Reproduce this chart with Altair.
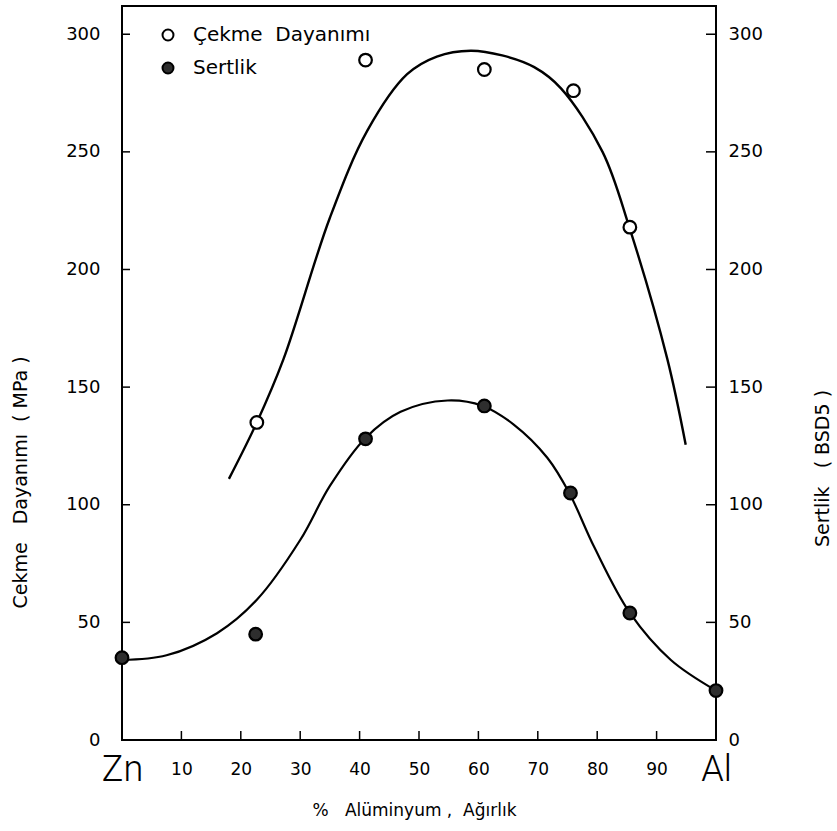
import altair as alt
import pandas as pd

# Measured points: aluminium content (wt %) against tensile strength (MPa) and hardness (BSD5)
cekme_al = [22.7, 41, 61, 76, 85.5]
cekme_mpa = [135, 289, 285, 276, 218]
sertlik_al = [0, 22.5, 41, 61, 75.5, 85.5, 100]
sertlik_bsd = [35, 45, 128, 142, 105, 54, 21]

# Hand-drawn trend curves, given as knots along each line
cekme_curve_al = [18, 22.7, 27.2, 35, 41.3, 48, 53, 58.7, 64, 69.4, 73.9, 80.9, 85.4, 91.8, 94.9]
cekme_curve_mpa = [111, 135, 162, 222, 259, 283, 290.5, 293, 291, 286, 277, 250, 218, 162, 125.5]
sertlik_curve_al = [0, 7.5, 16, 22.7, 30, 35, 41, 46.9, 54.8, 60.7, 66, 71.6, 75.3, 79.5, 85.5, 92.4, 100]
sertlik_curve_bsd = [34, 36, 45.4, 59.6, 85, 108, 128.4, 139.5, 144.3, 142, 134, 120, 105, 82, 54, 34, 21]

series_names = ["Çekme Dayanımı", "Sertlik"]
x_ticks = [0, 10, 20, 30, 40, 50, 60, 70, 80, 90, 100]
y_ticks = [0, 50, 100, 150, 200, 250, 300]

W, H = 594, 734
FONT = "DejaVu Sans"
SP = "\u00a0"  # non-collapsing space for the wide-set axis titles

points = pd.concat([
    pd.DataFrame({"al": cekme_al, "val": cekme_mpa, "seri": series_names[0]}),
    pd.DataFrame({"al": sertlik_al, "val": sertlik_bsd, "seri": series_names[1]}),
])
cekme_curve = pd.DataFrame({"al": cekme_curve_al, "val": cekme_curve_mpa})
sertlik_curve = pd.DataFrame({"al": sertlik_curve_al, "val": sertlik_curve_bsd})
yt = pd.DataFrame({"v": y_ticks})
xt = pd.DataFrame({"v": x_ticks[1:-1]})

x_scale = alt.Scale(domain=[0, 100], nice=False, zero=False)
y_scale = alt.Scale(domain=[0, 312], nice=False, zero=False)

end_test = "datum.value == 0 || datum.value == 100"
x_axis = alt.Axis(
    values=x_ticks,
    labelExpr="datum.value == 0 ? 'Zn' : datum.value == 100 ? 'Al' : datum.label",
    labelFontSize={"condition": {"test": end_test, "value": 36}, "value": 17},
    labelFont={"condition": {"test": end_test, "value": "Roboto"}, "value": FONT},
    labelFontWeight={"condition": {"test": end_test, "value": 300}, "value": "normal"},
    labelBaseline="middle",
    labelPadding=29,
    labelOverlap=False,
    labelFlush=False,
    labelBound=False,
    labelColor="black",
    ticks=False,
    domain=False,
    grid=False,
    title=f"%{SP*3}Alüminyum{SP},{SP*2}Ağırlık",
    titleFont=FONT,
    titleFontSize=17,
    titleFontWeight="normal",
    titleColor="black",
    titleX=292,
    titleY=70,
    titleBaseline="middle",
)


def xenc(field):
    return alt.X(field, type="quantitative", scale=x_scale, axis=x_axis)


left_axis = alt.Axis(
    orient="left", values=y_ticks, labelFont=FONT, labelFontSize=18, labelColor="black",
    labelPadding=22, ticks=False, domain=False, grid=False,
    title=f"Cekme{SP*3}Dayanımı{SP*2}({SP}MPa{SP})", titleFont=FONT, titleFontSize=19,
    titleFontWeight="normal", titleColor="black", titleAngle=270, titleLimit=400,
    titleX=-102, titleY=476, titleAlign="center", titleBaseline="middle",
)
right_axis = alt.Axis(
    orient="right", values=y_ticks, labelFont=FONT, labelFontSize=18, labelColor="black",
    labelPadding=12, ticks=False, domain=False, grid=False,
    title=f"Sertlik{SP*3}({SP}BSD5{SP})", titleFont=FONT, titleFontSize=19,
    titleFontWeight="normal", titleColor="black", titleAngle=270, titleLimit=400,
    titleX=106, titleY=462, titleAlign="center", titleBaseline="middle",
)

# Inward tick marks on the left, right and bottom frame edges
left_ticks = alt.Chart(yt).mark_rule(color="black", strokeWidth=1.5).encode(
    y=alt.Y("v:Q", scale=y_scale, axis=None), x=alt.value(0), x2=alt.value(8)
)
right_ticks = alt.Chart(yt).mark_rule(color="black", strokeWidth=1.5).encode(
    y=alt.Y("v:Q", scale=y_scale, axis=None), x=alt.value(W - 10), x2=alt.value(W)
)
bottom_ticks = alt.Chart(xt).mark_rule(color="black", strokeWidth=1.5).encode(
    x=xenc("v"), y=alt.value(H - 9), y2=alt.value(H)
)

cekme_line = alt.Chart(cekme_curve).mark_line(
    color="black", strokeWidth=2.4, interpolate="catmull-rom"
).encode(x=xenc("al"), y=alt.Y("val:Q", scale=y_scale, axis=left_axis))

sertlik_line = alt.Chart(sertlik_curve).mark_line(
    color="black", strokeWidth=2.2, interpolate="catmull-rom"
).encode(x=xenc("al"), y=alt.Y("val:Q", scale=y_scale, axis=right_axis))

dots = alt.Chart(points).mark_point(
    shape="circle", filled=True, size=160, stroke="black", strokeWidth=2.2, opacity=1
).encode(
    x=xenc("al"),
    y=alt.Y("val:Q", scale=y_scale, axis=None),
    fill=alt.Fill(
        "seri:N",
        scale=alt.Scale(domain=series_names, range=["white", "#2e2e2e"]),
        legend=alt.Legend(
            title=None, orient="none", legendX=36, legendY=19,
            symbolType="circle", symbolSize=120, symbolStrokeColor="black",
            symbolStrokeWidth=2, labelFont=FONT, labelFontSize=20, labelColor="black",
            labelOffset=15, rowPadding=13, padding=0, labelLimit=400,
            labelExpr=f"replace(datum.label, ' ', '{SP*2}')",
        ),
    ),
)

chart = alt.layer(
    left_ticks, right_ticks, bottom_ticks, cekme_line, sertlik_line, dots
).resolve_scale(y="independent").properties(
    width=W, height=H,
    autosize=alt.AutoSizeParams(type="none"),
    padding={"left": 122, "top": 6, "right": 121, "bottom": 91},
    background="white",
).configure_view(stroke="black", strokeWidth=2)

chart.save("out.html", embed_options={"renderer": "svg", "actions": False})
